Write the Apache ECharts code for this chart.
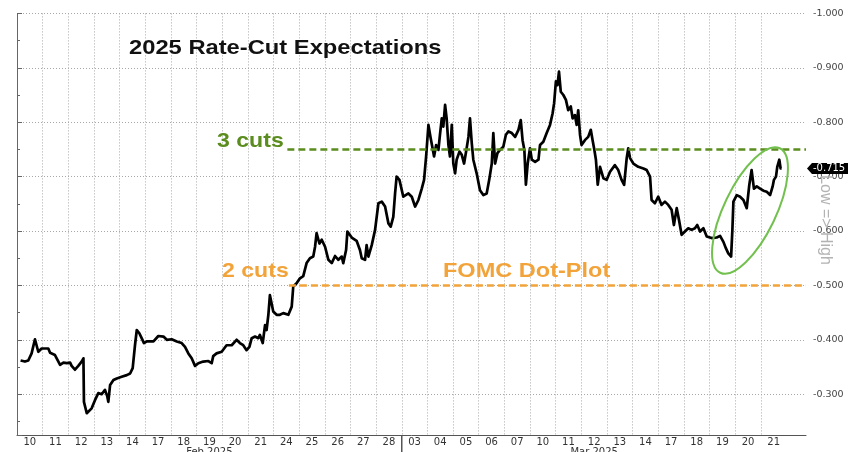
<!DOCTYPE html>
<html><head><meta charset="utf-8">
<script src="https://cdn.jsdelivr.net/npm/echarts@6/dist/echarts.min.js"></script>
<style>html,body{margin:0;padding:0;background:#fff}#c{width:848px;height:452px}</style>
</head><body><div id="c"></div>
<script>
// Trading days (x axis categories)
const dayLabels = ['10','11','12','13','14','17','18','19','20','21','24','25','26','27','28',
                   '03','04','05','06','07','10','11','12','13','14','17','18','19','20','21'];
const monthLabels = ['Feb 2025', 'Mar 2025'];
const monthLabelDays = [7, 22];
const monthStartDays = [15];

// Intraday samples: position in trading days (0 = open of Feb 10) and value
const pointTimes = [
0.14,0.31,0.44,0.57,0.70,0.83,0.96,1.22,1.29,1.48,1.68,1.81,1.94,2.07,2.13,2.26,2.39,2.52,2.59,2.61,
2.72,2.78,2.91,3.04,3.17,3.30,3.43,3.52,3.56,3.63,3.76,3.89,4.08,4.28,4.41,4.51,4.56,4.60,4.67,4.77,
4.86,4.95,5.06,5.32,5.51,5.71,5.84,6.03,6.23,6.42,6.55,6.68,6.81,6.94,7.07,7.26,7.46,7.59,7.65,7.78,
7.98,8.17,8.37,8.56,8.69,8.82,8.95,9.06,9.15,9.28,9.41,9.47,9.58,9.67,9.73,9.80,9.86,9.99,10.12,10.25,
10.38,10.58,10.71,10.77,10.90,11.03,11.16,11.29,11.42,11.55,11.62,11.68,11.79,11.88,12.01,12.14,12.27,12.40,12.53,12.66,
12.72,12.83,12.88,13.05,13.24,13.37,13.44,13.57,13.63,13.70,13.83,13.96,14.09,14.22,14.35,14.48,14.57,14.67,14.74,14.80,
14.91,15.06,15.26,15.39,15.52,15.65,15.78,15.87,15.95,16.04,16.13,16.19,16.26,16.34,16.43,16.49,16.56,16.62,16.69,16.75,
16.82,16.88,16.95,17.01,17.08,17.14,17.25,17.34,17.43,17.53,17.60,17.66,17.73,17.79,17.92,18.05,18.18,18.31,18.41,18.51,
18.57,18.64,18.73,18.83,18.96,19.06,19.16,19.29,19.42,19.55,19.64,19.71,19.78,19.84,19.91,20.00,20.07,20.20,20.33,20.39,
20.52,20.65,20.78,20.88,20.94,21.01,21.07,21.13,21.20,21.30,21.40,21.49,21.59,21.66,21.75,21.82,21.88,21.95,22.01,22.14,
22.27,22.37,22.44,22.51,22.57,22.64,22.73,22.86,22.99,23.12,23.31,23.44,23.57,23.67,23.77,23.83,23.90,24.03,24.22,24.42,
24.55,24.68,24.74,24.87,25.00,25.13,25.26,25.39,25.52,25.61,25.72,25.81,25.91,26.04,26.17,26.30,26.43,26.52,26.63,26.76,
26.89,27.08,27.28,27.41,27.54,27.64,27.73,27.84,27.89,27.93,28.06,28.19,28.32,28.45,28.55,28.64,28.73,28.84,28.97,29.10,
29.23,29.36,29.46,29.51,29.59,29.64,29.72,29.77,29.81
];
const pointValues = [
-0.362,-0.360,-0.362,-0.375,-0.401,-0.378,-0.384,-0.384,-0.376,-0.372,-0.354,-0.358,-0.357,-0.358,-0.352,-0.345,-0.352,-0.360,-0.366,-0.286,
-0.265,-0.268,-0.274,-0.289,-0.302,-0.300,-0.308,-0.296,-0.286,-0.317,-0.326,-0.329,-0.332,-0.335,-0.338,-0.348,-0.345,-0.390,-0.418,-0.412,
-0.403,-0.394,-0.397,-0.397,-0.407,-0.406,-0.400,-0.401,-0.397,-0.394,-0.387,-0.375,-0.366,-0.352,-0.357,-0.360,-0.361,-0.357,-0.370,-0.375,
-0.378,-0.390,-0.390,-0.400,-0.394,-0.390,-0.381,-0.387,-0.403,-0.406,-0.403,-0.409,-0.394,-0.427,-0.418,-0.446,-0.482,-0.452,-0.446,-0.446,
-0.449,-0.446,-0.461,-0.498,-0.504,-0.513,-0.517,-0.541,-0.550,-0.553,-0.571,-0.596,-0.577,-0.584,-0.571,-0.547,-0.541,-0.554,-0.547,-0.553,
-0.541,-0.565,-0.599,-0.588,-0.582,-0.565,-0.550,-0.547,-0.574,-0.553,-0.574,-0.602,-0.651,-0.654,-0.645,-0.614,-0.608,-0.626,-0.669,-0.700,
-0.694,-0.663,-0.669,-0.663,-0.645,-0.657,-0.678,-0.694,-0.737,-0.795,-0.770,-0.755,-0.737,-0.758,-0.749,-0.777,-0.807,-0.792,-0.832,-0.807,
-0.758,-0.737,-0.795,-0.724,-0.706,-0.731,-0.746,-0.740,-0.724,-0.752,-0.773,-0.807,-0.761,-0.731,-0.706,-0.675,-0.666,-0.669,-0.694,-0.724,
-0.780,-0.724,-0.743,-0.749,-0.755,-0.777,-0.783,-0.780,-0.773,-0.786,-0.804,-0.767,-0.749,-0.685,-0.724,-0.752,-0.731,-0.727,-0.731,-0.758,
-0.764,-0.780,-0.795,-0.816,-0.835,-0.875,-0.868,-0.893,-0.856,-0.850,-0.841,-0.822,-0.829,-0.807,-0.813,-0.795,-0.822,-0.777,-0.758,-0.767,
-0.773,-0.786,-0.767,-0.749,-0.731,-0.685,-0.718,-0.697,-0.694,-0.709,-0.721,-0.712,-0.694,-0.685,-0.734,-0.752,-0.734,-0.724,-0.718,-0.715,
-0.712,-0.700,-0.657,-0.651,-0.663,-0.648,-0.654,-0.648,-0.639,-0.611,-0.642,-0.620,-0.593,-0.599,-0.605,-0.602,-0.605,-0.611,-0.599,-0.605,
-0.590,-0.587,-0.588,-0.591,-0.580,-0.568,-0.559,-0.553,-0.602,-0.654,-0.666,-0.663,-0.657,-0.642,-0.685,-0.712,-0.678,-0.682,-0.678,-0.674,
-0.672,-0.666,-0.682,-0.694,-0.700,-0.718,-0.731,-0.715,-0.715
];

// Reference levels
const threeCutsLevel = -0.75;
const twoCutsLevel = -0.5;
const threeCutsStart = 10.54;
const twoCutsStart = 10.6;

const X_MAX = 30.76;
const lastValue = pointValues[pointValues.length - 1];
const dayBoundaries = dayLabels.slice(1).map((_, i) => i + 1);

const chart = echarts.init(document.getElementById('c'), null, {renderer: 'canvas'});
const FONT = 'DejaVu Sans';

const option = {
  animation: false,
  backgroundColor: '#ffffff',
  grid: {left: 17, right: 42, top: 13.4, bottom: 17, containLabel: false, outerBoundsMode: 'none'},
  xAxis: [
    {
      type: 'value', min: 0, max: X_MAX, interval: 1, position: 'bottom',
      axisLine: {show: true, lineStyle: {color: '#555', width: 1}},
      axisTick: {show: false}, axisLabel: {show: false}, splitLine: {show: false}
    },
    {
      type: 'value', min: 0, max: X_MAX, interval: 0.5, position: 'bottom',
      axisLine: {show: false}, axisTick: {show: false}, splitLine: {show: false},
      axisLabel: {
        show: true, margin: 2, color: '#333', fontFamily: FONT, fontSize: 10, lineHeight: 10,
        showMinLabel: true, showMaxLabel: true,
        formatter: function (v) {
          const i = Math.floor(v + 1e-9);
          if (Math.abs(v - i - 0.5) < 1e-6 && i < dayLabels.length) {
            let s = dayLabels[i];
            const m = monthLabelDays.indexOf(i);
            if (m >= 0) s += '\n' + monthLabels[m];
            return s;
          }
          return '';
        }
      }
    }
  ],
  yAxis: {
    type: 'value', position: 'right', inverse: true, min: -1.0, max: -0.225, interval: 0.1,
    axisLine: {show: true, lineStyle: {color: '#666', width: 1}},
    axisTick: {show: true, length: 5, lineStyle: {color: '#666'}},
    minorTick: {show: true, splitNumber: 2, length: 3, lineStyle: {color: '#666'}},
    minorSplitLine: {show: false},
    splitLine: {show: true, lineStyle: {type: [1, 2], color: '#a8a8a8', width: 1}},
    axisLabel: {
      margin: 7, color: '#444', fontFamily: FONT, fontSize: 9.5, showMaxLabel: false,
      formatter: v => v.toFixed(3)
    }
  },
  series: [
    {
      type: 'line', xAxisIndex: 0, yAxisIndex: 0, z: 1, silent: true,
      data: [[0, twoCutsLevel]], showSymbol: false, lineStyle: {opacity: 0},
      markLine: {
        silent: true, z: 1, animation: false, symbol: ['none', 'none'],
        label: {show: false},
        lineStyle: {type: [1, 2], color: '#a8a8a8', width: 1},
        emphasis: {disabled: true},
        data: dayBoundaries.map(b => ({xAxis: b}))
      }
    },
    {
      type: 'line', xAxisIndex: 0, yAxisIndex: 0, z: 3,
      data: pointTimes.map((t, i) => [t, pointValues[i]]),
      showSymbol: false, symbol: 'none',
      lineStyle: {color: '#000', width: 2.7, join: 'round'},
      emphasis: {disabled: true},
      markLine: {
        silent: true, z: 4, animation: false, symbol: ['none', 'none'],
        label: {show: false}, emphasis: {disabled: true},
        data: [
          [{coord: [threeCutsStart, threeCutsLevel], lineStyle: {color: '#5b8c1e', width: 2.6, type: [7, 4]}},
           {coord: [X_MAX, threeCutsLevel]}],
          [{coord: [twoCutsStart, twoCutsLevel], lineStyle: {color: '#f2a33a', width: 2.6, type: [7, 4]}},
           {coord: [X_MAX, twoCutsLevel]}]
        ]
      }
    }
  ]
};
chart.setOption(option);

const bottomY = 452 - 17;
const sepX = chart.convertToPixel({xAxisIndex: 0}, monthStartDays[0]);
const axisX = 848 - 42;
const lastY = chart.convertToPixel({yAxisIndex: 0}, lastValue);

chart.setOption({
  graphic: [
    {type: 'line', z: 50, silent: true,
     shape: {x1: sepX, y1: bottomY, x2: sepX, y2: 452},
     style: {stroke: '#555', lineWidth: 1.5}},
    {type: 'text', z: 1, silent: true, x: 825, y: 220, rotation: -Math.PI / 2,
     style: {text: 'Low => High', fill: '#b3b3b3', fontSize: 16, fontFamily: 'Liberation Sans',
             align: 'center', verticalAlign: 'middle'}},
    {type: 'text', z: 60, silent: true, x: 129, y: 48, scaleX: 1.13,
     style: {text: '2025 Rate-Cut Expectations', fill: '#111', fontSize: 21, fontWeight: 'bold',
             fontFamily: 'Liberation Sans', align: 'left', verticalAlign: 'middle'}},
    {type: 'text', z: 60, silent: true, x: 217, y: 141.5, scaleX: 1.1,
     style: {text: '3 cuts', fill: '#5b8c1e', fontSize: 21, fontWeight: 'bold',
             fontFamily: 'Liberation Sans', align: 'left', verticalAlign: 'middle'}},
    {type: 'text', z: 60, silent: true, x: 222, y: 271.5, scaleX: 1.1,
     style: {text: '2 cuts', fill: '#f2a33a', fontSize: 21, fontWeight: 'bold',
             fontFamily: 'Liberation Sans', align: 'left', verticalAlign: 'middle'}},
    {type: 'text', z: 60, silent: true, x: 443, y: 271.5, scaleX: 1.12,
     style: {text: 'FOMC Dot-Plot', fill: '#f2a33a', fontSize: 21, fontWeight: 'bold',
             fontFamily: 'Liberation Sans', align: 'left', verticalAlign: 'middle'}},
    {type: 'ellipse', z: 60, silent: true, x: 750, y: 210.5, rotation: 64.4 * Math.PI / 180,
     shape: {cx: 0, cy: 0, rx: 69, ry: 26},
     style: {fill: 'none', stroke: '#72c04e', lineWidth: 2}},
    {type: 'polygon', z: 100, silent: true,
     shape: {points: [[axisX + 1, lastY], [axisX + 6, lastY - 5.5], [848, lastY - 5.5], [848, lastY + 5.5], [axisX + 6, lastY + 5.5]]},
     style: {fill: '#000'}},
    {type: 'text', z: 101, silent: true, x: 813, y: lastY,
     style: {text: lastValue.toFixed(3), fill: '#fff', fontSize: 10, fontFamily: FONT,
             align: 'left', verticalAlign: 'middle'}}
  ]
});
</script>
</body></html>
